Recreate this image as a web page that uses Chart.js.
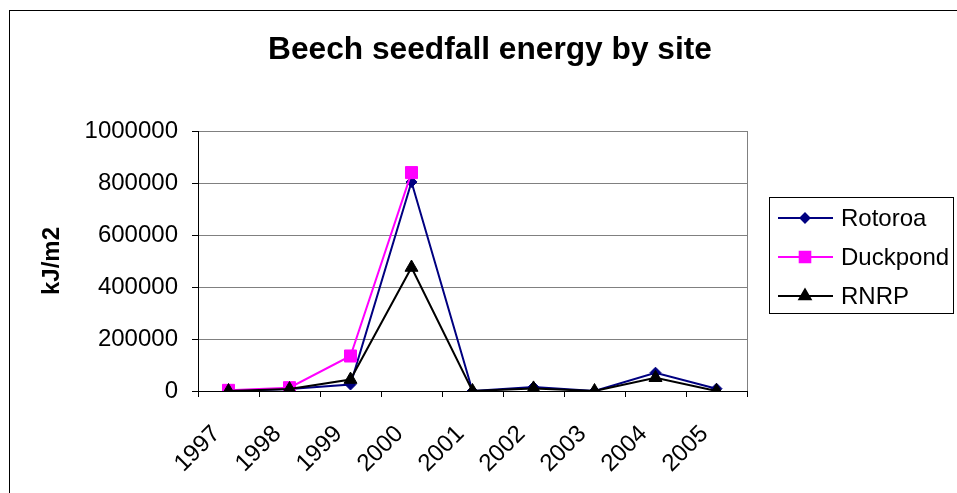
<!DOCTYPE html>
<html>
<head>
<meta charset="utf-8">
<title>Beech seedfall energy by site</title>
<script src="https://cdn.jsdelivr.net/npm/chart.js@4.4.1/dist/chart.umd.min.js"></script>
<style>
  html, body { margin: 0; padding: 0; background: #fff; overflow: hidden; }
  #wrap { position: relative; width: 957px; height: 493px; }
</style>
</head>
<body>
<div id="wrap"><canvas id="seedChart" width="957" height="493"></canvas></div>
<script>
// Seedfall energy per site (kJ/m2)
const years = ['1997', '1998', '1999', '2000', '2001', '2002', '2003', '2004', '2005'];
const rotoroa = [0, 7700, 25000, 804000, 0, 15000, 0, 70500, 9000];
const duckpond = [2500, 12800, 134600, 840000, null, null, null, null, null];
const rnrp = [0, 7700, 44000, 475000, 0, 10000, 0, 51000, 0];
const yTicks = [0, 200000, 400000, 600000, 800000, 1000000];

const FONT = "'Liberation Sans', Arial, sans-serif";

const series = [
    { label: 'Rotoroa', data: rotoroa, color: '#000080', style: 'rectRot', radius: 5.5, order: 3 },
    { label: 'Duckpond', data: duckpond, color: '#ff00ff', style: 'rect', radius: 8.5, order: 2 },
    { label: 'RNRP', data: rnrp, color: '#000000', style: 'triangle', radius: 7.5, order: 1 }
];

// frame, plot border, title and boxed legend
const chartDecor = {
    id: 'chartDecor',
    beforeDraw(chart) {
        const ctx = chart.ctx;
        ctx.save();
        ctx.fillStyle = '#fff';
        ctx.fillRect(0, 0, chart.width, chart.height);
        ctx.strokeStyle = '#000';
        ctx.lineWidth = 1;
        ctx.strokeRect(9.5, 10.5, 2000, 2000);
        ctx.restore();
    },
    beforeDatasetsDraw(chart) {
        const { ctx, chartArea } = chart;
        ctx.save();
        ctx.strokeStyle = '#808080';
        ctx.lineWidth = 1;
        ctx.beginPath();
        ctx.moveTo(Math.round(chartArea.right) + 0.5, chartArea.top);
        ctx.lineTo(Math.round(chartArea.right) + 0.5, chartArea.bottom);
        ctx.stroke();
        ctx.restore();
    },
    afterDraw(chart) {
        const ctx = chart.ctx;
        ctx.save();

        ctx.fillStyle = '#000';
        ctx.font = 'bold 31.7px ' + FONT;
        ctx.textAlign = 'center';
        ctx.textBaseline = 'alphabetic';
        ctx.fillText('Beech seedfall energy by site', 490, 59);

        ctx.strokeStyle = '#000';
        ctx.lineWidth = 1;
        ctx.strokeRect(769.5, 197.5, 184, 116);

        const rows = [218, 257, 296];
        series.forEach((s, i) => {
            const y = rows[i];
            ctx.strokeStyle = s.color;
            ctx.lineWidth = 2;
            ctx.beginPath();
            ctx.moveTo(778, y);
            ctx.lineTo(833, y);
            ctx.stroke();

            ctx.fillStyle = s.color;
            ctx.strokeStyle = s.color;
            Chart.helpers.drawPoint(ctx, {
                pointStyle: s.style,
                radius: s.radius - 1,
                rotation: 0,
                borderWidth: 1
            }, 805, y);

            ctx.fillStyle = '#000';
            ctx.font = '24px ' + FONT;
            ctx.textAlign = 'left';
            ctx.textBaseline = 'middle';
            ctx.fillText(s.label, 841, y + 1);
        });
        ctx.restore();
    }
};

const ctx = document.getElementById('seedChart').getContext('2d');
new Chart(ctx, {
    type: 'line',
    data: {
        labels: years,
        datasets: series.map(s => ({
            label: s.label,
            data: s.data,
            order: s.order,
            borderColor: s.color,
            backgroundColor: s.color,
            borderWidth: 2,
            pointStyle: s.style,
            pointRadius: s.radius,
            pointBackgroundColor: s.color,
            pointBorderColor: s.color,
            pointBorderWidth: 1,
            tension: 0,
            spanGaps: false,
            fill: false
        }))
    },
    options: {
        responsive: false,
        animation: false,
        devicePixelRatio: 1,
        layout: {
            padding: { top: 131, right: 210, bottom: 0, left: 0 }
        },
        plugins: {
            legend: { display: false },
            title: { display: false },
            tooltip: { enabled: false }
        },
        scales: {
            x: {
                type: 'category',
                offset: true,
                grid: {
                    display: true,
                    offset: true,
                    drawOnChartArea: false,
                    drawTicks: true,
                    tickLength: 6,
                    tickColor: '#000'
                },
                border: { color: '#000', width: 1 },
                ticks: {
                    minRotation: 45,
                    maxRotation: 45,
                    autoSkip: false,
                    labelOffset: -12,
                    padding: 23,
                    color: '#000',
                    font: { family: FONT, size: 24 }
                },
                afterFit(scale) { scale.height = 102; }
            },
            y: {
                min: 0,
                max: 1000000,
                afterBuildTicks(scale) {
                    scale.ticks = yTicks.map(v => ({ value: v }));
                },
                grid: {
                    color: c => (c.tick && c.tick.value === 0 ? '#000' : '#808080'),
                    lineWidth: 1,
                    drawTicks: true,
                    tickLength: 6,
                    tickColor: '#000'
                },
                border: { color: '#000', width: 1 },
                ticks: {
                    padding: 14,
                    color: '#000',
                    font: { family: FONT, size: 24 },
                    callback: v => String(v)
                },
                title: {
                    display: true,
                    text: 'kJ/m2',
                    color: '#000',
                    font: { family: FONT, size: 24, weight: 'bold' },
                    padding: { top: 38, bottom: 0 }
                },
                afterFit(scale) { scale.width = 198; }
            }
        }
    },
    plugins: [chartDecor]
});
</script>
</body>
</html>
